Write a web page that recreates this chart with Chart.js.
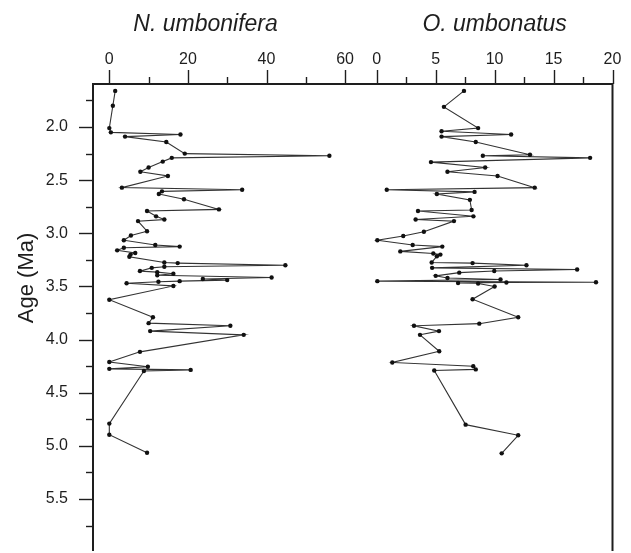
<!DOCTYPE html>
<html>
<head>
<meta charset="utf-8">
<title>N. umbonifera and O. umbonatus vs age</title>
<script src="https://cdn.jsdelivr.net/npm/chart.js@4/dist/chart.umd.min.js"></script>
<style>
  html, body { margin: 0; padding: 0; background: #ffffff; }
  #wrap { width: 631px; height: 553px; }
</style>
</head>
<body>
<div id="wrap"><canvas id="chart" width="631" height="553"></canvas></div>
<script>
// Sample ages (Ma) and percentages for each species
const nAges = [1.66, 1.80, 2.01, 2.05, 2.07, 2.09, 2.14, 2.25, 2.27, 2.29, 2.325, 2.38, 2.42, 2.46,
  2.57, 2.59, 2.605, 2.63, 2.68, 2.775, 2.79, 2.84, 2.87, 2.885, 2.98, 3.02, 3.065, 3.11, 3.125,
  3.135, 3.16, 3.185, 3.20, 3.22, 3.275, 3.28, 3.30, 3.315, 3.325, 3.355, 3.365, 3.38, 3.395,
  3.415, 3.43, 3.44, 3.45, 3.455, 3.47, 3.495, 3.625, 3.79, 3.845, 3.87, 3.92, 3.955, 4.115,
  4.21, 4.255, 4.275, 4.285, 4.295, 4.79, 4.895, 5.065];
const nValues = [1.5, 0.9, 0.0, 0.4, 18.1, 4.0, 14.5, 19.2, 56.0, 15.9, 13.6, 10.0, 7.9, 14.9,
  3.2, 33.8, 13.4, 12.6, 19.0, 27.9, 9.6, 11.9, 14.0, 7.3, 9.6, 5.5, 3.7, 11.7, 17.9,
  3.7, 2.0, 6.6, 5.4, 5.1, 14.0, 17.4, 44.8, 14.0, 10.8, 7.8, 12.2, 16.3, 12.2,
  41.3, 23.8, 30.0, 17.9, 12.5, 4.4, 16.3, 0.0, 11.1, 10.0, 30.8, 10.4, 34.2, 7.8,
  0.0, 9.8, 0.0, 20.7, 8.8, 0.0, 0.0, 9.6];

const oAges = [1.66, 1.81, 2.01, 2.04, 2.07, 2.09, 2.14, 2.26, 2.27, 2.29, 2.33, 2.38, 2.42, 2.46,
  2.57, 2.59, 2.61, 2.63, 2.685, 2.78, 2.79, 2.84, 2.87, 2.885, 2.985, 3.025, 3.065, 3.11, 3.125,
  3.17, 3.19, 3.20, 3.215, 3.275, 3.28, 3.30, 3.325, 3.34, 3.355, 3.37, 3.40, 3.42, 3.435,
  3.45, 3.46, 3.462, 3.468, 3.472, 3.50, 3.62, 3.79, 3.85, 3.87, 3.92, 3.955, 4.11,
  4.215, 4.25, 4.28, 4.29, 4.80, 4.90, 5.07];
const oValues = [7.4, 5.7, 8.6, 5.5, 11.4, 5.5, 8.4, 13.0, 9.0, 18.1, 4.6, 9.2, 6.0, 10.25,
  13.4, 0.85, 8.3, 5.1, 7.9, 8.05, 3.5, 8.2, 3.3, 6.55, 4.0, 2.25, 0.05, 3.05, 5.56,
  2.0, 4.8, 5.4, 5.1, 4.66, 8.13, 12.7, 4.7, 17.0, 9.97, 7.0, 5.0, 6.0, 10.5,
  0.05, 18.6, 11.0, 6.9, 8.6, 10.0, 8.13, 12.0, 8.7, 3.16, 5.28, 3.67, 5.3,
  1.32, 8.19, 8.4, 4.88, 7.54, 12.0, 10.6];

const seriesNames = ['N. umbonifera', 'O. umbonatus'];
const axisTitle = 'Age (Ma)';

const FONT = "'Liberation Sans', Arial, Helvetica, sans-serif";
const INK = '#1e1e1e';

function toPoints(ages, values) {
  return ages.map((a, i) => ({ x: values[i], y: a }));
}
function isMultiple(v, step) {
  const r = v / step;
  return Math.abs(r - Math.round(r)) < 1e-6;
}

// Ticks drawn outward from the frame: long for labelled values, short in between
const axisTicks = {
  id: 'axisTicks',
  afterDraw(chart) {
    const { ctx, chartArea: area } = chart;
    ctx.save();
    ctx.strokeStyle = INK;
    ctx.lineWidth = 1.4;
    ['x1', 'x2', 'y'].forEach(id => {
      const s = chart.scales[id];
      s.ticks.forEach(t => {
        const len = t.label === '' ? 7 : 14;
        const p = Math.round(s.getPixelForValue(t.value)) + 0.5;
        ctx.beginPath();
        if (s.isHorizontal()) {
          ctx.moveTo(p, area.top);
          ctx.lineTo(p, area.top - len);
        } else {
          ctx.moveTo(area.left, p);
          ctx.lineTo(area.left - len, p);
        }
        ctx.stroke();
      });
    });
    ctx.restore();
  }
};

// Frame round the plotting area; its lower edge runs on below the page
const frame = {
  id: 'frame',
  afterDraw(chart) {
    const { ctx, chartArea: a } = chart;
    ctx.save();
    ctx.strokeStyle = INK;
    ctx.lineWidth = 2;
    ctx.beginPath();
    ctx.moveTo(a.left, a.bottom + 2);
    ctx.lineTo(a.left, a.top);
    ctx.lineTo(a.right, a.top);
    ctx.lineTo(a.right, a.bottom + 2);
    ctx.stroke();
    ctx.restore();
  }
};

// Species names above each panel and the age label beside the axis
const titles = {
  id: 'titles',
  afterDraw(chart, args, opts) {
    const { ctx, chartArea: a } = chart;
    ctx.save();
    ctx.fillStyle = INK;
    ctx.textAlign = 'center';
    ctx.textBaseline = 'alphabetic';
    ctx.font = 'italic 23px ' + FONT;
    ctx.fillText(seriesNames[0], chart.scales.x1.getPixelForValue(opts.leftAt), a.top - opts.rise);
    ctx.fillText(seriesNames[1], chart.scales.x2.getPixelForValue(opts.rightAt), a.top - opts.rise);
    const y = chart.scales.y;
    ctx.translate(opts.ageX, y.getPixelForValue(opts.ageAt));
    ctx.rotate(-Math.PI / 2);
    ctx.textBaseline = 'middle';
    ctx.font = '22px ' + FONT;
    ctx.fillText(axisTitle, 0, 0);
    ctx.restore();
  }
};

const lineStyle = {
  showLine: true,
  borderColor: '#333333',
  borderWidth: 1.1,
  pointRadius: 2.2,
  pointBackgroundColor: '#111',
  pointBorderWidth: 0,
  tension: 0,
  yAxisID: 'y'
};

// Two top axes sharing one row; the heavier one sits on the left
function topAxis(min, max, step, major, share, order) {
  return {
    type: 'linear',
    position: 'top',
    stack: 'top',
    stackWeight: share,
    weight: order,
    min, max,
    grid: { display: false, drawTicks: false },
    border: { display: false },
    ticks: {
      stepSize: step,
      includeBounds: false,
      autoSkip: false,
      maxRotation: 0,
      padding: 15,
      color: INK,
      font: { family: FONT, size: 16 },
      callback: v => isMultiple(v, major) ? String(Math.round(v)) : ''
    },
    afterFit: s => {
      s.height = 84;
      s.paddingLeft = 0;
      s.paddingRight = 0;
    }
  };
}

new Chart(document.getElementById('chart'), {
  type: 'scatter',
  data: {
    datasets: [
      Object.assign({ label: seriesNames[0], data: toPoints(nAges, nValues), xAxisID: 'x1' }, lineStyle),
      Object.assign({ label: seriesNames[1], data: toPoints(oAges, oValues), xAxisID: 'x2' }, lineStyle)
    ]
  },
  options: {
    responsive: false,
    animation: false,
    devicePixelRatio: 1,
    layout: { padding: { left: 0, right: 18.5, top: 0, bottom: 0 } },
    plugins: {
      legend: { display: false },
      tooltip: { enabled: false },
      titles: { leftAt: 24.5, rightAt: 10, rise: 53, ageX: 27, ageAt: 3.42 }
    },
    scales: {
      x1: topAxis(-4.15, 64.3, 10, 20, 269, 1),
      x2: topAxis(-1.25, 20, 2.5, 5, 250.5, 0),
      y: {
        type: 'linear',
        position: 'left',
        reverse: true,
        min: 1.595,
        max: 5.97,
        grid: { display: false, drawTicks: false },
        border: { display: false },
        ticks: {
          stepSize: 0.25,
          includeBounds: false,
          autoSkip: false,
          padding: 25,
          color: INK,
          font: { family: FONT, size: 16 },
          callback: v => isMultiple(v, 0.5) ? v.toFixed(1) : ''
        },
        afterFit: s => {
          s.width = 93;
          s.paddingTop = 0;
          s.paddingBottom = 0;
        }
      }
    }
  },
  plugins: [axisTicks, frame, titles]
});
</script>
</body>
</html>
